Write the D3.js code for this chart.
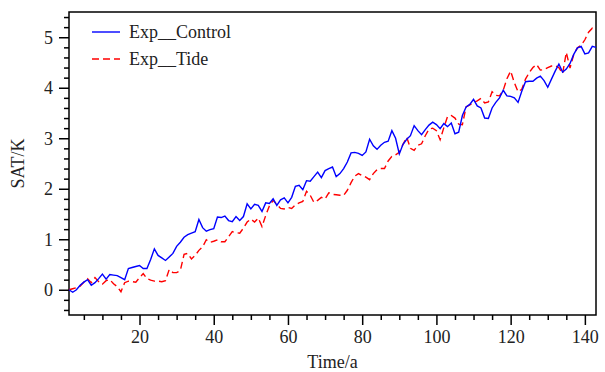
<!DOCTYPE html>
<html lang="en">
	<head>
		<meta charset="utf-8">
		<title>SAT time series</title>
		<script type="text/javascript" src="https://d3js.org/d3.v7.min.js"></script>
		<style type="text/css">
			body { margin: 0; background: #fff; }
			text { font-family: "Liberation Serif", "Times New Roman", serif; fill: #222; }
		</style>
	</head>
	<body>
		<script type="text/javascript">

			//Data (years 1..143)
			var controlSAT = [0.00,-0.05,0.00,0.09,0.15,0.20,0.09,0.14,0.22,0.31,0.21,0.30,0.29,0.28,0.24,0.20,0.42,0.44,0.46,0.48,
				0.42,0.42,0.60,0.81,0.68,0.63,0.58,0.65,0.72,0.86,0.94,1.04,1.09,1.12,1.15,1.39,1.23,1.16,1.19,1.21,
				1.44,1.43,1.46,1.37,1.35,1.45,1.37,1.45,1.70,1.60,1.69,1.67,1.55,1.72,1.71,1.80,1.67,1.78,1.82,1.72,
				1.83,2.05,2.07,1.98,2.16,2.15,2.24,2.33,2.22,2.36,2.40,2.43,2.24,2.30,2.40,2.53,2.71,2.72,2.70,2.66,
				2.73,2.98,2.85,2.78,2.86,2.92,2.94,3.15,3.00,2.69,2.88,2.98,3.05,3.25,3.15,3.07,3.17,3.26,3.32,3.27,
				3.19,3.29,3.23,3.30,3.09,3.12,3.45,3.62,3.67,3.77,3.64,3.60,3.40,3.39,3.60,3.71,3.80,3.95,3.84,3.83,
				3.80,3.71,3.93,4.12,4.13,4.13,4.19,4.23,4.14,4.01,4.17,4.33,4.47,4.31,4.37,4.48,4.66,4.79,4.82,4.67,
				4.69,4.82,4.80];
			var tideSAT = [0.00,0.02,0.04,0.07,0.15,0.22,0.14,0.24,0.16,0.11,0.18,0.20,0.12,0.06,-0.04,0.14,0.17,0.16,0.15,0.24,
				0.32,0.22,0.19,0.17,0.17,0.16,0.18,0.40,0.34,0.34,0.38,0.70,0.72,0.61,0.68,0.78,0.85,0.99,0.94,0.96,
				0.99,0.95,0.95,1.05,1.15,1.13,1.12,1.22,1.34,1.40,1.34,1.42,1.25,1.47,1.66,1.77,1.69,1.61,1.60,1.63,
				1.61,1.68,1.72,1.75,1.95,1.87,1.73,1.77,1.83,1.80,1.92,1.89,1.88,1.87,1.87,1.97,2.12,2.25,2.30,2.26,
				2.23,2.18,2.30,2.38,2.40,2.40,2.55,2.64,2.67,2.72,2.88,3.02,2.80,2.76,2.86,2.89,3.05,3.18,3.20,3.15,
				2.97,3.21,3.43,3.45,3.40,3.28,3.27,3.62,3.66,3.71,3.74,3.79,3.70,3.72,3.92,3.85,3.84,3.95,4.18,4.33,
				4.10,3.92,3.97,4.17,4.30,4.40,4.46,4.35,4.36,4.40,4.43,4.44,4.40,4.28,4.70,4.39,4.66,4.79,4.84,4.95,
				5.10,5.18,5.15];
			var years = d3.range(1, controlSAT.length + 1);
			var seriesNames = ["Exp__Control", "Exp__Tide"];
			var xTicks = [20, 40, 60, 80, 100, 120, 140];
			var yTicks = [0, 1, 2, 3, 4, 5];

			//Width and height
			var w = 605;
			var h = 372;
			var margin = {top: 12, right: 9, bottom: 57, left: 69};

			var svg = d3.select("body")
				.append("svg")
				.attr("width", w)
				.attr("height", h);

			var x = d3.scaleLinear().domain([1, 143]).range([margin.left, w - margin.right]);
			var y = d3.scaleLinear().domain([-0.5, 5.5]).range([h - margin.bottom, margin.top]);

			//Minor ticks
			var xMinor = d3.range(5, 143, 5).filter(function(d) { return d % 20 != 0; });
			var yMinor = d3.range(-4, 55, 2).map(function(d) { return d / 10; }).filter(function(d) { return Math.abs(d - Math.round(d)) > 1e-6; });

			function styleAxis(g) {
				g.attr("font-family", null).attr("font-size", null);
				g.select(".domain").remove();
				g.selectAll("line").attr("stroke", "#000").attr("stroke-width", 1.5);
				g.selectAll("text").style("font-size", "18px").attr("fill", "#222");
			}

			svg.append("g")
				.attr("transform", "translate(0," + (h - margin.bottom) + ")")
				.call(d3.axisBottom(x).tickValues(xMinor).tickSize(5).tickFormat(""))
				.call(styleAxis);
			svg.append("g")
				.attr("transform", "translate(0," + (h - margin.bottom) + ")")
				.call(d3.axisBottom(x).tickValues(xTicks).tickSize(10).tickPadding(5).tickFormat(d3.format("d")))
				.call(styleAxis);

			svg.append("g")
				.attr("transform", "translate(" + margin.left + ",0)")
				.call(d3.axisLeft(y).tickValues(yMinor).tickSize(5).tickFormat(""))
				.call(styleAxis);
			svg.append("g")
				.attr("transform", "translate(" + margin.left + ",0)")
				.call(d3.axisLeft(y).tickValues(yTicks).tickSize(10).tickPadding(6).tickFormat(d3.format("d")))
				.call(styleAxis);

			//Frame
			svg.append("rect")
				.attr("x", margin.left)
				.attr("y", margin.top)
				.attr("width", w - margin.left - margin.right)
				.attr("height", h - margin.top - margin.bottom)
				.attr("fill", "none")
				.attr("stroke", "#000")
				.attr("stroke-width", 1.5);

			//Lines
			var line = d3.line()
				.x(function(d, i) { return x(years[i]); })
				.y(function(d) { return y(d); });

			svg.append("path")
				.datum(tideSAT)
				.attr("d", line)
				.attr("fill", "none")
				.attr("stroke", "#ff0000")
				.attr("stroke-width", 1.4)
				.attr("stroke-dasharray", "7,4");

			svg.append("path")
				.datum(controlSAT)
				.attr("d", line)
				.attr("fill", "none")
				.attr("stroke", "#0000ff")
				.attr("stroke-width", 1.4);

			//Legend
			var legend = [
				{name: seriesNames[0], color: "#0000ff", dash: null, y: 32},
				{name: seriesNames[1], color: "#ff0000", dash: "7,4", y: 59}
			];
			legend.forEach(function(l) {
				svg.append("line")
					.attr("x1", 92).attr("x2", 120)
					.attr("y1", l.y).attr("y2", l.y)
					.attr("stroke", l.color)
					.attr("stroke-width", 1.4)
					.attr("stroke-dasharray", l.dash);
				svg.append("text")
					.attr("x", 129).attr("y", l.y)
					.attr("dy", "0.35em")
					.style("font-size", "18px")
					.text(l.name);
			});

			//Axis titles
			svg.append("text")
				.attr("x", (margin.left + w - margin.right) / 2)
				.attr("y", 368)
				.attr("text-anchor", "middle")
				.style("font-size", "18px")
				.text("Time/a");

			svg.append("text")
				.attr("transform", "translate(24," + ((margin.top + h - margin.bottom) / 2) + ") rotate(-90)")
				.attr("text-anchor", "middle")
				.style("font-size", "18px")
				.text("SAT/K");

		</script>
	</body>
</html>
